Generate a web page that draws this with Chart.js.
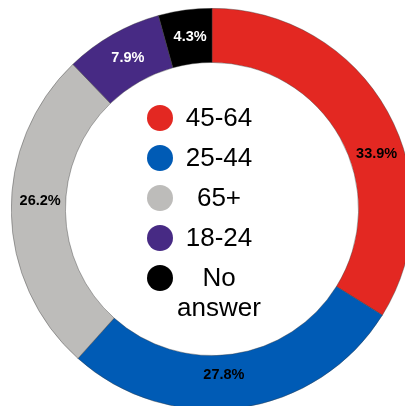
<!DOCTYPE html>
<html>
<head>
<meta charset="utf-8">
<script src="https://cdn.jsdelivr.net/npm/chart.js@4/dist/chart.umd.min.js"></script>
<style>
html,body{margin:0;padding:0;background:#fff;overflow:hidden;width:405px;height:406px;}
#wrap{position:absolute;left:11px;top:8px;width:402px;height:402px;}
</style>
</head>
<body>
<div id="wrap"><canvas id="c"></canvas></div>
<script>
const categories = ["45-64", "25-44", "65+", "18-24", "No answer"];
const values = [33.9, 27.8, 26.2, 7.9, 4.3];
const valueLabels = ["33.9%", "27.8%", "26.2%", "7.9%", "4.3%"];
const colors = ["#e32822", "#005bb5", "#bdbcba", "#472a84", "#000000"];
const labelColors = ["#000", "#000", "#000", "#fff", "#fff"];
const labelAngleNudge = [10.5, 4, 3.5, 0.5, 0.5];
const labelRadiusFrac = [0.5, 0.37, 0.47, 0.48, 0.5];

const centerLegend = {
  id: 'centerLegend',
  afterDatasetsDraw(chart) {
    const ctx = chart.ctx;
    const meta = chart.getDatasetMeta(0);
    ctx.save();
    // value labels
    ctx.font = "bold 14.5px 'Liberation Sans', Arial, sans-serif";
    ctx.textAlign = 'center';
    ctx.textBaseline = 'middle';
    meta.data.forEach((arc, i) => {
      const p = arc.getProps(['x','y','startAngle','endAngle','innerRadius','outerRadius'], true);
      const a = (p.startAngle + p.endAngle) / 2 + labelAngleNudge[i] * Math.PI / 180;
      const r = p.innerRadius + (p.outerRadius - p.innerRadius) * labelRadiusFrac[i];
      ctx.fillStyle = labelColors[i];
      ctx.fillText(valueLabels[i], p.x + r * Math.cos(a), p.y + r * Math.sin(a));
    });
    // center legend
    const cx = meta.data[0].x, cy = meta.data[0].y;
    ctx.font = "26px 'Liberation Sans', Arial, sans-serif";
    const rowH = 40;
    const y0 = cy - 91;
    categories.forEach((c, i) => {
      const y = y0 + i * rowH;
      ctx.fillStyle = colors[i];
      ctx.beginPath();
      ctx.arc(cx - 52, y, 13, 0, Math.PI * 2);
      ctx.fill();
      ctx.fillStyle = '#000';
      const parts = c === 'No answer' ? ['No', 'answer'] : [c];
      parts.forEach((t, j) => ctx.fillText(t, cx + 7, y + 1 + j * 30));
    });
    ctx.restore();
  }
};

new Chart(document.getElementById('c'), {
  type: 'doughnut',
  data: {
    labels: categories,
    datasets: [{
      data: values,
      backgroundColor: colors,
      borderColor: 'rgba(60,60,60,0.8)',
      borderWidth: 0.5,
      hoverOffset: 0,
      offset: 0
    }]
  },
  options: {
    responsive: true,
    maintainAspectRatio: false,
    animation: false,
    cutout: '73%',
    layout: { padding: 0 },
    plugins: { legend: { display: false }, tooltip: { enabled: false } }
  },
  plugins: [centerLegend]
});
</script>
</body>
</html>
